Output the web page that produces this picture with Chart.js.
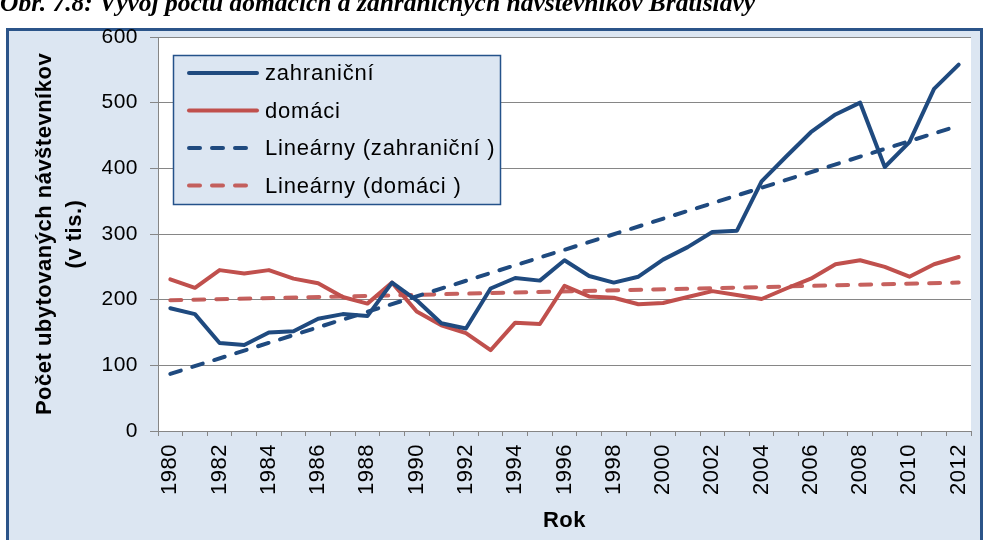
<!DOCTYPE html>
<html><head><meta charset="utf-8">
<script src="https://cdn.jsdelivr.net/npm/chart.js@4"></script>
<style>
html,body{margin:0;padding:0;background:#fff;width:984px;height:540px;overflow:hidden}
#wrap{position:absolute;left:0;top:0;width:984px;height:540px}
#cap{position:absolute;left:0;top:-10px;font:italic bold 25.5px "Liberation Serif","Times New Roman",serif;white-space:nowrap;z-index:2;line-height:26px;color:#000}
</style></head><body>
<div id="wrap"><canvas id="c" width="984" height="540" style="width:984px;height:540px"></canvas></div>
<div id="cap">Obr. 7.8: Vývoj počtu domácich a zahraničných návštevníkov Bratislavy</div>
<script>
const years = ['1980','1981','1982','1983','1984','1985','1986','1987','1988','1989','1990','1991','1992','1993','1994','1995','1996','1997','1998','1999','2000','2001','2002','2003','2004','2005','2006','2007','2008','2009','2010','2011','2012'];
const zahranicni = [187,178,134,131,150,152,171,178,175,226,199,164,156,217,233,229,260,236,226,235,261,280,303,305,380,418,455,482,500,402,440,521,558];
const domaci = [231,218,245,240,245,232,225,204,194,226,182,161,149,123,165,163,221,205,203,193,195,204,213,207,201,217,232,254,260,250,235,254,265];
const trendZahranicni = [{x:'1980', y:87}, {x:'2012', y:465}];
const trendDomaci = [{x:'1980', y:199}, {x:'2012', y:226}];
const seriesNames = ['zahraniční', 'domáci', 'Lineárny (zahraniční )', 'Lineárny (domáci )'];
const yTitle = ['Počet ubytovaných návštevníkov', '(v tis.)'];
const xTitle = 'Rok';

const BLUE = '#1f4a7f', RED = '#c0504d';
const FONT = '"Liberation Sans", Arial, sans-serif';

const framePlugin = {
  id: 'frame',
  beforeDraw(chart) {
    const ctx = chart.ctx, a = chart.chartArea;
    ctx.save();
    ctx.fillStyle = '#dce6f2';
    ctx.fillRect(6, 28, 976, 520);
    ctx.fillStyle = '#ffffff';
    ctx.fillRect(a.left, a.top, a.right - a.left, a.bottom - a.top);
    ctx.strokeStyle = '#2b5489';
    ctx.lineWidth = 3;
    ctx.strokeRect(7.5, 29.5, 974, 530);
    ctx.restore();
    ctx.letterSpacing = '0.5px';
  }
};

const legendPlugin = {
  id: 'boxLegend',
  afterDraw(chart) {
    const ctx = chart.ctx;
    ctx.save();
    ctx.letterSpacing = '0.8px';
    ctx.fillStyle = '#dce6f2';
    ctx.fillRect(173, 55, 328, 150);
    ctx.strokeStyle = '#24528a';
    ctx.lineWidth = 1.5;
    ctx.strokeRect(173.5, 55.5, 327, 149);
    chart.data.datasets.forEach((ds, i) => {
      const y = 73 + i * 37.5;
      ctx.beginPath();
      ctx.setLineDash(ds.borderDash || []);
      ctx.lineCap = 'round';
      ctx.strokeStyle = ds.borderColor;
      ctx.lineWidth = ds.borderWidth;
      ctx.moveTo(189, y);
      ctx.lineTo(257, y);
      ctx.stroke();
      ctx.setLineDash([]);
      ctx.fillStyle = '#000';
      ctx.font = '22px ' + FONT;
      ctx.textBaseline = 'middle';
      ctx.textAlign = 'left';
      ctx.fillText(ds.label, 265, y + 1);
    });
    ctx.restore();
  }
};

new Chart(document.getElementById('c'), {
  type: 'line',
  data: {
    labels: years,
    datasets: [
      {label: seriesNames[0], data: zahranicni, borderColor: BLUE, borderWidth: 4, pointRadius: 0, borderJoinStyle: 'round', borderCapStyle: 'round', tension: 0},
      {label: seriesNames[1], data: domaci, borderColor: RED, borderWidth: 4, pointRadius: 0, borderJoinStyle: 'round', borderCapStyle: 'round', tension: 0},
      {label: seriesNames[2], data: trendZahranicni, borderColor: BLUE, borderWidth: 4, borderDash: [11, 12], borderCapStyle: 'round', pointRadius: 0},
      {label: seriesNames[3], data: trendDomaci, borderColor: 'rgba(192,80,77,0.9)', borderWidth: 4, borderDash: [11, 12], borderCapStyle: 'round', pointRadius: 0}
    ]
  },
  options: {
    responsive: false,
    animation: false,
    devicePixelRatio: 1,
    layout: {padding: {left: 20, top: 37, right: 13, bottom: 0}},
    plugins: {legend: {display: false}, tooltip: {enabled: false}, title: {display: false}},
    scales: {
      x: {
        type: 'category',
        offset: true,
        grid: {display: true, drawOnChartArea: false, drawTicks: true, tickLength: 5, color: '#868686', offset: true},
        border: {display: true, color: '#868686', width: 1},
        ticks: {autoSkip: false, maxRotation: 90, minRotation: 90, padding: 8, color: '#000', font: {family: FONT, size: 22},
          callback: (v, i) => (i % 2 === 0 ? years[i] : '')},
        title: {display: true, text: xTitle, color: '#000', font: {family: FONT, size: 22, weight: 'bold', lineHeight: 1.2}, padding: {top: 0, bottom: 6}},
        afterFit: (s) => { s.height = 109; s.paddingLeft = 0; s.paddingRight = 0; }
      },
      y: {
        min: 0, max: 600,
        grid: {color: '#868686', lineWidth: 1, tickLength: 8, drawTicks: true},
        border: {display: true, color: '#868686', width: 1},
        ticks: {stepSize: 100, padding: 12, color: '#000', font: {family: FONT, size: 21}},
        title: {display: true, text: yTitle, color: '#000', font: {family: FONT, size: 22, weight: 'bold', lineHeight: 1.36}, padding: {top: 10, bottom: 0}},
        afterFit: (s) => { s.width = 138; s.paddingTop = 0; s.paddingBottom = 0; }
      }
    }
  },
  plugins: [framePlugin, legendPlugin]
});
</script>
</body></html>
